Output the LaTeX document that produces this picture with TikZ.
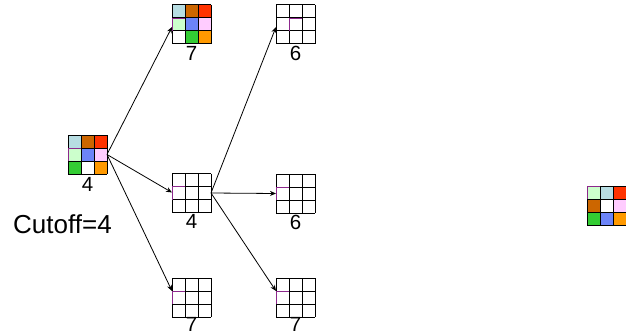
\documentclass[tikz,border=0pt]{standalone}
\usepackage{fontspec}
\setmainfont{Liberation Sans}
\usetikzlibrary{calc,arrows.meta}

% tile colours
\definecolor{tLblue}{RGB}{183,221,226}
\definecolor{tBrown}{RGB}{204,102,0}
\definecolor{tRed}{RGB}{255,51,0}
\definecolor{tLgreen}{RGB}{204,255,204}
\definecolor{tBlue}{RGB}{108,132,248}
\definecolor{tPink}{RGB}{255,204,255}
\definecolor{tGreen}{RGB}{51,204,51}
\definecolor{tOrange}{RGB}{255,153,0}
\definecolor{tMark}{RGB}{140,40,140}

\tikzset{
  board/.style={minimum size=39pt, inner sep=0pt, outer sep=0pt, draw=none},
  gridline/.style={draw=black, line width=1pt},
  markline/.style={draw=tMark, line width=0.9pt},
  move/.style={draw=black, line width=0.8pt, -{Stealth[length=6pt,width=5pt]}},
  numlabel/.style={inner sep=0pt, font=\fontsize{20.5}{22}\selectfont},
}

% #1 name, #2 centre, #3 nine cell colours row by row, #4 marked cell index
\newcommand\tileboard[4]{%
  \node[board] (#1) at (#2) {};
  \begin{scope}[shift={(#1.north west)}]
    \foreach \c [count=\i from 0] in {#3} {
      \pgfmathtruncatemacro\rr{\i/3}
      \pgfmathtruncatemacro\kk{mod(\i,3)}
      \fill[\c] (\kk*13,\rr*13) rectangle ++(13,13);
    }
    \foreach \t in {0,13,26,39} {
      \draw[gridline] (\t,0) -- (\t,39);
      \draw[gridline] (0,\t) -- (39,\t);
    }
    \pgfmathtruncatemacro\rr{#4/3}
    \pgfmathtruncatemacro\kk{mod(#4,3)}
    \draw[markline] (\kk*13,\rr*13+13) -- (\kk*13,\rr*13) -- (\kk*13+13,\rr*13);
  \end{scope}%
}

\begin{document}
\begin{tikzpicture}[x=1pt,y=-1pt]
  \useasboundingbox (0,0) rectangle (626,334);

  % start state and the goal
  \tileboard{root}{87.5,154.5}{tLblue,tBrown,tRed,tLgreen,tBlue,tPink,tGreen,white,tOrange}{3}
  \tileboard{goal}{606.5,205.5}{tLgreen,tLblue,tRed,tBrown,white,tPink,tGreen,tBlue,tOrange}{0}

  % first level
  \tileboard{a}{191.5,24.5}{tLblue,tBrown,tRed,tLgreen,tBlue,tPink,white,tGreen,tOrange}{3}
  \tileboard{b}{191.5,193}{white,white,white,white,white,white,white,white,white}{3}
  \tileboard{c}{191.5,297.5}{white,white,white,white,white,white,white,white,white}{3}

  % second level
  \tileboard{d}{295.5,24.5}{white,white,white,white,white,white,white,white,white}{4}
  \tileboard{e}{295.5,193.5}{white,white,white,white,white,white,white,white,white}{3}
  \tileboard{f}{295.5,297.5}{white,white,white,white,white,white,white,white,white}{3}

  % cost labels
  \node[numlabel] (lroot) at ($(root.south)+(0,10)$) {4};
  \node[numlabel] (la) at ($(a.south)+(0,9)$) {7};
  \node[numlabel] (lb) at ($(b.south)+(0,9)$) {4};
  \node[numlabel] (lc) at ($(c.south)+(0,7)$) {7};
  \node[numlabel] (ld) at ($(d.south)+(0,9)$) {6};
  \node[numlabel] (le) at ($(e.south)+(0,9)$) {6};
  \node[numlabel] (lf) at ($(f.south)+(0,7)$) {7};

  \node[inner sep=0pt, anchor=base west, font=\fontsize{26}{28}\selectfont] (cut) at (13,233) {Cutoff=4};

  % expansions
  \draw[move] (root.east) -- ($(a.west)+(0,2.5)$);
  \draw[move] (root.east) -- ($(b.west)+(0,-0.5)$);
  \draw[move] (root.east) -- ($(c.west)+(0,-6.5)$);
  \draw[move] (b.east) -- ($(d.west)+(0,2.5)$);
  \draw[move] (b.east) -- (e.west);
  \draw[move] (b.east) -- ($(f.west)+(0,-6.5)$);
\end{tikzpicture}
\end{document}
